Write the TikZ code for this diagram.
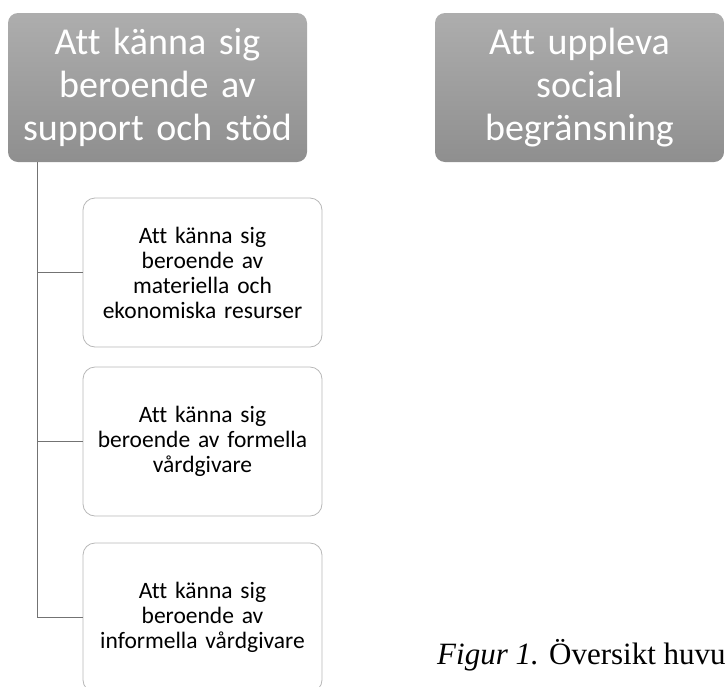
\documentclass[tikz,border=0pt]{standalone}
\usepackage{fontspec}
\setmainfont[Ligatures=NoCommon]{Carlito}
\newfontfamily\captionfont{Liberation Serif}
\begin{document}
\begin{tikzpicture}[x=1pt, y=-1pt,
        huvudbox/.style={rounded corners=10pt, top color=black!32, bottom color=black!44,
            draw=none, text=white, minimum width=299pt, minimum height=149pt,
            text width=285pt, align=center, inner sep=0pt,
            font=\fontsize{38}{43}\selectfont},
        delbox/.style={rounded corners=12pt, draw=black!28, line width=0.8pt, fill=white,
            minimum width=239pt, minimum height=149pt, text width=235pt,
            align=center, inner sep=0pt, font=\fontsize{23.5}{25}\selectfont},
        linje/.style={draw=black!55, line width=0.9pt}]
        % Ram
        \clip (0, 0) rectangle (725, 686);

        % Huvudkategorier
        \node[huvudbox] (huvud1) at (157.5, 87.5) {Att känna sig\\beroende av\\support och stöd};
        \node[huvudbox, minimum width=289pt] (huvud2) at (579.5, 87.5) {Att uppleva\\social\\begränsning};

        % Underkategorier
        \node[delbox] (del1) at (202.5, 272.5) {Att känna sig\\beroende av\\materiella och\\ekonomiska resurser};
        \node[delbox] (del2) at (202.5, 441.5) {Att känna sig\\beroende av formella\\vårdgivare};
        \node[delbox] (del3) at (202.5, 617.5) {Att känna sig\\beroende av\\informella vårdgivare};

        % Linjer
        \coordinate (stam) at ([xshift=30pt]huvud1.south west);
        \draw[linje] (stam) |- (del1.west);
        \draw[linje] (stam) |- (del2.west);
        \draw[linje] (stam) |- (del3.west);

        % Figurtext
        \node[anchor=base west, inner sep=0pt, font=\captionfont\fontsize{31}{36}\selectfont]
            (figur) at (437, 664) {\textit{Figur 1.} Översikt huvu};
\end{tikzpicture}
\end{document}
